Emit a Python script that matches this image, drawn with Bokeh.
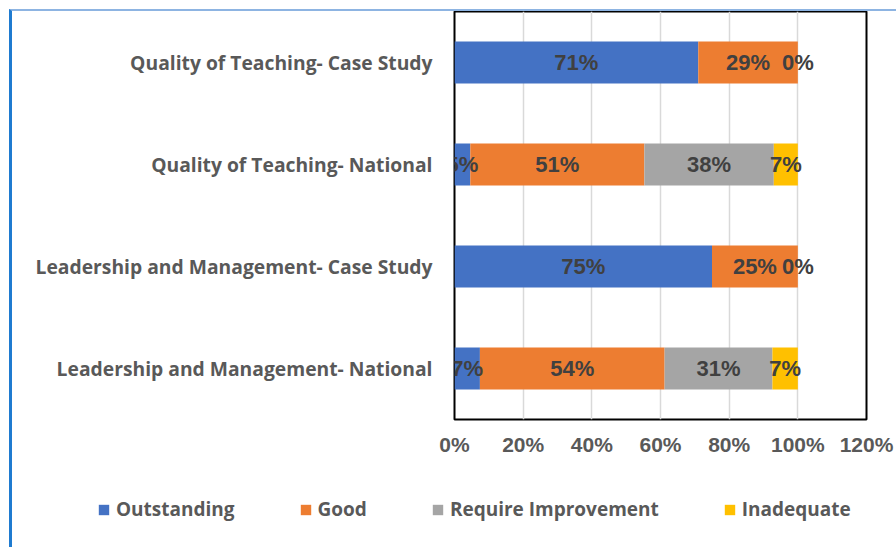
from bokeh.plotting import figure
from bokeh.layouts import column
from bokeh.models import (ColumnDataSource, FactorRange, Range1d, FixedTicker,
                          NumeralTickFormatter, Legend, LegendItem)
from bokeh.core.properties import value
from bokeh.embed import file_html
from bokeh.resources import INLINE

# ---- data ----
categories = ["Leadership and Management- National",
              "Leadership and Management- Case Study",
              "Quality of Teaching- National",
              "Quality of Teaching- Case Study"]
series = ["Outstanding", "Good", "Require Improvement", "Inadequate"]
outstanding = [0.074, 0.75, 0.046, 0.71]
good = [0.538, 0.25, 0.507, 0.29]
require_improvement = [0.314, 0.0, 0.377, 0.0]
inadequate = [0.074, 0.0, 0.070, 0.0]
colors = ["#4472C4", "#ED7D31", "#A5A5A5", "#FFC000"]
x_ticks = [0, 0.2, 0.4, 0.6, 0.8, 1.0, 1.2]

values = {"Outstanding": outstanding, "Good": good,
          "Require Improvement": require_improvement, "Inadequate": inadequate}

source = ColumnDataSource(dict(cat=categories, **values))

p = figure(width=884, height=458, output_backend="svg", toolbar_location=None,
           y_range=FactorRange(*categories), x_range=Range1d(0, 1.2),
           min_border_left=442, min_border_right=30, min_border_top=0,
           min_border_bottom=50)
p.frame_align = False

renderers = p.hbar_stack(series, y="cat", height=0.41, color=colors,
                         line_color=None, source=source)

# data labels at segment centres
lx, ly, lt = [], [], []
for i, c in enumerate(categories):
    left = 0.0
    seen = set()
    for s in series:
        v = values[s][i]
        pos = round(left + v / 2, 4)
        if pos not in seen:
            lx.append(left + v / 2)
            ly.append(c)
            lt.append(f"{round(v * 100):d}%")
            seen.add(pos)
        left += v
p.text(x=lx, y=ly, text=lt, text_align="center", text_baseline="middle",
       text_font=value("Liberation Sans"), text_font_style="bold",
       text_font_size="22px", text_color="#404040")

# axes
p.xaxis.ticker = FixedTicker(ticks=x_ticks)
p.xaxis.formatter = NumeralTickFormatter(format="0%")
p.xaxis.axis_line_color = None
p.xaxis.major_tick_line_color = None
p.xaxis.minor_tick_line_color = None
p.xaxis.major_label_standoff = 7
p.xaxis.major_label_text_font = "Liberation Sans"
p.xaxis.major_label_text_font_style = "bold"
p.xaxis.major_label_text_font_size = "21px"
p.xaxis.major_label_text_color = "#595959"

p.yaxis.axis_line_color = None
p.yaxis.major_tick_line_color = None
p.yaxis.minor_tick_line_color = None
p.yaxis.major_label_standoff = 16
p.yaxis.major_label_text_font = "Open Sans"
p.yaxis.major_label_text_font_style = "bold"
p.yaxis.major_label_text_font_size = "19.3px"
p.yaxis.major_label_text_color = "#595959"

p.xgrid.grid_line_color = "#D9D9D9"
p.xgrid.grid_line_width = 1.5
p.ygrid.grid_line_color = None

p.outline_line_color = "black"
p.outline_line_width = 2
p.background_fill_color = "white"
p.border_fill_color = "white"

# legend strip below the chart (bars placed out of view, only legend shown)
q_source = ColumnDataSource(dict(yy=[-10.0] * len(categories), **values))
q = figure(width=884, height=78, output_backend="svg", toolbar_location=None,
           x_axis_location=None, y_axis_location=None,
           y_range=Range1d(0, 1), x_range=Range1d(0, 1.2),
           min_border_left=0, min_border_right=0, min_border_top=0,
           min_border_bottom=0)
q.frame_align = False
q.grid.visible = False
q.outline_line_color = None
q_renderers = q.hbar_stack(series, y="yy", height=0.41, color=colors,
                           line_color=None, source=q_source)
legend = Legend(items=[LegendItem(label=s, renderers=[r]) for s, r in zip(series, q_renderers)],
                orientation="horizontal", location=(85, 25),
                spacing=64, glyph_width=13, glyph_height=13, label_standoff=6,
                label_height=20, padding=0, margin=0,
                border_line_color=None, background_fill_alpha=0,
                label_text_font="Open Sans", label_text_font_style="bold",
                label_text_font_size="19px", label_text_color="#595959")
q.add_layout(legend, "center")

layout = column(p, q, spacing=0,
                styles={"margin-left": "9px", "margin-top": "9px",
                        "border-left": "3px solid #1F7BD0",
                        "border-top": "2px solid #8DB4E2"})

open("out.html", "w").write(file_html(layout, INLINE))
